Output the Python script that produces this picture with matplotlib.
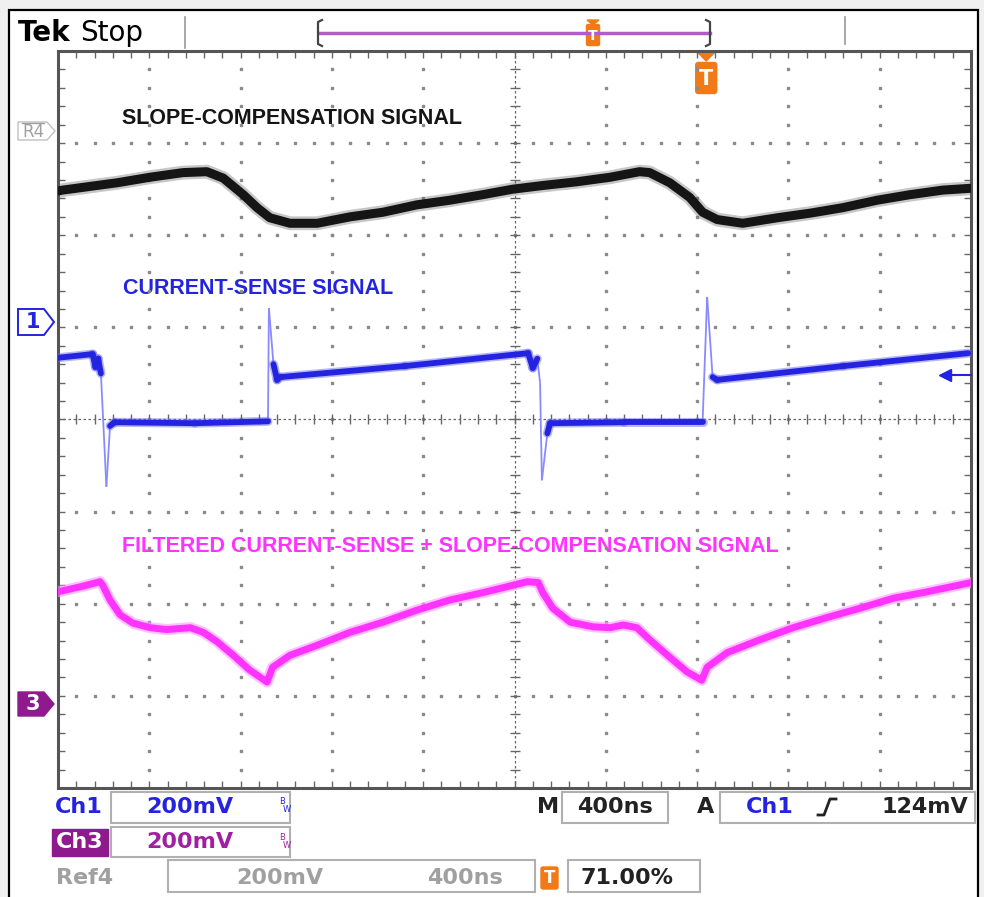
import numpy as np
import matplotlib.pyplot as plt
from matplotlib.collections import LineCollection
from matplotlib.patches import Rectangle, Polygon, FancyBboxPatch


# Screen values in graticule divisions (400 ns/div, 200 mV/div)
time_ref4 = [0.0, 0.05, 0.65, 1.01, 1.37, 1.63, 1.81, 2.03, 2.18, 2.32,
             2.54, 2.84, 3.20, 3.56, 3.93, 4.29, 4.65, 4.98, 5.31, 5.68,
             6.05, 6.37, 6.48, 6.70, 6.92, 7.06, 7.22, 7.50, 7.88, 8.24,
             8.60, 8.97, 9.33, 9.69, 10.0]
level_ref4 = [6.48, 6.49, 6.57, 6.63, 6.68, 6.69, 6.62, 6.44, 6.30, 6.19,
              6.13, 6.13, 6.20, 6.25, 6.33, 6.38, 6.44, 6.50, 6.54, 6.58,
              6.63, 6.69, 6.68, 6.57, 6.41, 6.25, 6.17, 6.13, 6.19, 6.24,
              6.30, 6.38, 6.44, 6.49, 6.51]

time_ch1 = [0.0, 0.38, 0.41, 0.44, 0.47, 0.53, 0.57, 0.62, 1.5, 2.30,
            2.31, 2.36, 2.40, 2.43, 3.8, 5.15, 5.20, 5.25, 5.28, 5.30,
            5.36, 5.39, 6.2, 7.06, 7.11, 7.17, 7.22, 8.6, 9.97]
level_ch1 = [4.67, 4.71, 4.57, 4.66, 4.50, 3.27, 3.93, 3.97, 3.96, 3.98,
             5.21, 4.60, 4.43, 4.46, 4.58, 4.72, 4.56, 4.66, 4.40, 3.34,
             3.85, 3.96, 3.97, 3.97, 5.33, 4.46, 4.43, 4.58, 4.72]

time_ch3 = [0.0, 0.27, 0.46, 0.49, 0.57, 0.68, 0.82, 1.01, 1.19, 1.45,
            1.59, 1.74, 1.92, 2.10, 2.29, 2.35, 2.54, 2.84, 3.20, 3.56,
            3.93, 4.29, 4.65, 4.98, 5.14, 5.26, 5.31, 5.42, 5.61, 5.86,
            6.05, 6.19, 6.34, 6.48, 6.70, 6.89, 7.05, 7.11, 7.33, 7.69,
            8.05, 8.42, 8.78, 9.15, 9.52, 10.0]
level_ch3 = [2.13, 2.19, 2.24, 2.20, 2.04, 1.88, 1.79, 1.74, 1.72, 1.74,
             1.69, 1.59, 1.44, 1.28, 1.15, 1.31, 1.44, 1.55, 1.69, 1.80,
             1.93, 2.04, 2.12, 2.20, 2.24, 2.23, 2.12, 1.95, 1.80, 1.75,
             1.74, 1.77, 1.74, 1.61, 1.42, 1.26, 1.17, 1.31, 1.47, 1.61,
             1.74, 1.85, 1.95, 2.06, 2.13, 2.23]

trigger_level = 4.48
trigger_pos = 0.71

labels = ["SLOPE-COMPENSATION SIGNAL", "CURRENT-SENSE SIGNAL",
          "FILTERED CURRENT-SENSE + SLOPE-COMPENSATION SIGNAL"]

BLUE = "#2424e0"
PINK = "#ff33ff"
PURPLE = "#8e1a8e"
ORANGE = "#f07a18"
GRAY = "#a0a0a0"

W, H = 984, 897
fig = plt.figure(figsize=(W / 100, H / 100), dpi=100)
fig.patch.set_facecolor("#f0f0f0")

# Screen chrome drawn in pixel coordinates
bg = fig.add_axes([0, 0, 1, 1])
bg.set_xlim(0, W)
bg.set_ylim(H, 0)
bg.axis("off")
bg.add_patch(Rectangle((9, 10), 969, 900, facecolor="white", edgecolor="black", lw=1.6))

# Graticule
x0, x1, y0, y1 = 58, 971, 51, 788
ax = fig.add_axes([x0 / W, (H - y1) / H, (x1 - x0) / W, (y1 - y0) / H])
ax.set_xlim(0, 10)
ax.set_ylim(0, 8)
ax.patch.set_alpha(0)
for s in ax.spines.values():
    s.set_color("#555555")
    s.set_linewidth(2.2)
ax.set_xticks(np.arange(0, 10.001, 0.2))
ax.set_yticks(np.arange(0, 8.001, 0.2))
ax.tick_params(direction="in", length=5, width=1, color="#666666",
               top=True, right=True, labelbottom=False, labelleft=False)

xd = np.arange(0.2, 10, 0.2)
yd = np.arange(0.2, 8, 0.2)
for k in range(1, 10):
    if k != 5:
        ax.plot(np.full(len(yd), k), yd, ls="none", marker="s", ms=1.5, color="#8a8a8a", zorder=1)
for k in range(1, 8):
    if k != 4:
        ax.plot(xd, np.full(len(xd), k), ls="none", marker="s", ms=1.5, color="#8a8a8a", zorder=1)
ax.axvline(5, color="#666666", lw=0.9, ls=(0, (2, 2)), zorder=1)
ax.axhline(4, color="#666666", lw=0.9, ls=(0, (2, 2)), zorder=1)
ax.plot(np.full(len(yd), 5), yd, ls="none", marker="_", ms=7, mew=1, color="#666666", zorder=1)
ax.plot(xd, np.full(len(xd), 4), ls="none", marker="|", ms=7, mew=1, color="#666666", zorder=1)

# Traces
ax.plot(time_ref4, level_ref4, color="#606060", lw=10, alpha=0.35, solid_capstyle="round", zorder=3)
ax.plot(time_ref4, level_ref4, color="#151515", lw=6.5, solid_capstyle="round", zorder=3)

ax.plot(time_ch3, level_ch3, color="#ff99ff", lw=8, alpha=0.6, solid_capstyle="round", zorder=3)
ax.plot(time_ch3, level_ch3, color=PINK, lw=5, solid_capstyle="round", zorder=3)

pts = np.column_stack([time_ch1, level_ch1])
segs = np.stack([pts[:-1], pts[1:]], axis=1)
steep = np.abs(np.diff(level_ch1)) > 0.25
ax.add_collection(LineCollection(segs[steep], colors="#8a8aff", linewidths=1.3, zorder=3))
ax.add_collection(LineCollection(segs[~steep], colors="#7070f0", linewidths=6.5, alpha=0.5,
                                 capstyle="round", zorder=3))
ax.add_collection(LineCollection(segs[~steep], colors=BLUE, linewidths=4.2,
                                 capstyle="round", zorder=3))

# Trigger level arrow
ax.plot([9.72, 10.0], [trigger_level, trigger_level], color=BLUE, lw=1.5, zorder=4, clip_on=False)
ax.plot(9.72, trigger_level, marker="<", ms=9, color=BLUE, zorder=4, clip_on=False)

# Trace captions
bg.text(122, 118, labels[0], fontsize=15.5, weight="bold", family="Liberation Sans", color="#151515", va="center")
bg.text(123, 288, labels[1], fontsize=15.5, weight="bold", family="Liberation Sans", color=BLUE, va="center")
bg.text(122, 547, labels[2], fontsize=15.5, weight="bold", family="Liberation Sans", color=PINK, va="center")

# Header
bg.text(18, 33, "Tek", fontsize=20, weight="bold", color="black", va="center")
bg.text(80, 33, "Stop", fontsize=20, color="black", va="center")
bg.plot([185, 185], [17, 48], color="#999999", lw=1.2)
bg.plot([845, 845], [17, 44], color="#999999", lw=1.2)

# Record bar
bg.plot([319, 710], [33, 33], color="#b25cc8", lw=2.5)
bg.plot([322, 318, 318, 322], [20, 22, 44, 46], color="#444444", lw=1.6)
bg.plot([706, 710, 710, 706], [20, 22, 44, 46], color="#444444", lw=1.6)
bg.add_patch(Polygon([[587, 20], [599, 20], [593, 25]], color=ORANGE))
bg.add_patch(FancyBboxPatch((588, 26), 10, 18, boxstyle="round,pad=1.5", color=ORANGE))
bg.text(593, 36, "T", fontsize=10, weight="bold", color="white", ha="center", va="center")

# Trigger position marker
tx = x0 + trigger_pos * (x1 - x0)
bg.add_patch(Polygon([[tx - 8, 53], [tx + 8, 53], [tx, 61]], color=ORANGE))
bg.add_patch(FancyBboxPatch((tx - 8, 65), 16, 26, boxstyle="round,pad=2.5", color=ORANGE))
bg.text(tx, 79, "T", fontsize=15, weight="bold", color="white", ha="center", va="center")

# Channel ground markers
bg.add_patch(Polygon([[18, 122], [47, 122], [55, 131], [47, 140], [18, 140]],
                     facecolor="white", edgecolor="#c0c0c0", lw=1))
bg.text(33, 132, "R4", fontsize=12, color=GRAY, ha="center", va="center")
bg.plot([22, 44], [123, 123], color=GRAY, lw=1)
bg.add_patch(Polygon([[18, 309], [44, 309], [54, 322], [44, 335], [18, 335]],
                     facecolor="white", edgecolor=BLUE, lw=1.4))
bg.text(33, 322, "1", fontsize=15, weight="bold", color=BLUE, ha="center", va="center")
bg.add_patch(Polygon([[18, 692], [44, 692], [54, 704], [44, 716], [18, 716]],
                     facecolor=PURPLE, edgecolor=PURPLE, lw=1))
bg.text(33, 704, "3", fontsize=15, weight="bold", color="white", ha="center", va="center")

# Readout boxes
for bx, by, bw, bh in [(111, 792, 179, 31), (111, 827, 179, 30), (168, 860, 367, 32),
                       (562, 792, 106, 31), (720, 792, 255, 31), (568, 860, 132, 32)]:
    bg.add_patch(Rectangle((bx, by), bw, bh, facecolor="white", edgecolor="#b0b0b0", lw=1.5))

rd = dict(fontsize=16, weight="bold", va="center")
bg.text(79, 807, "Ch1", color=BLUE, ha="center", **rd)
bg.text(190, 807, "200mV", color=BLUE, ha="center", **rd)
bg.add_patch(Rectangle((52, 829), 56, 27, color=PURPLE))
bg.text(80, 842, "Ch3", color="white", ha="center", **rd)
bg.text(190, 842, "200mV", color="#a020a0", ha="center", **rd)
for yy, cc in [(807, BLUE), (842, "#a020a0")]:
    bg.text(282, yy - 5, "B", fontsize=6, color=cc, ha="center", va="center")
    bg.text(287, yy + 3, "W", fontsize=6, color=cc, ha="center", va="center")

bg.text(85, 878, "Ref4", color=GRAY, ha="center", **rd)
bg.text(280, 878, "200mV", color=GRAY, ha="center", **rd)
bg.text(465, 878, "400ns", color=GRAY, ha="center", **rd)

bg.text(548, 807, "M", color="#222222", ha="center", **rd)
bg.text(615, 807, "400ns", color="#222222", ha="center", **rd)
bg.text(706, 807, "A", color="#222222", ha="center", **rd)
bg.text(770, 807, "Ch1", color=BLUE, ha="center", **rd)
bg.plot([818, 824, 830, 836], [815, 815, 799, 799], color="#222222", lw=2)
bg.text(925, 807, "124mV", color="#222222", ha="center", **rd)

bg.add_patch(FancyBboxPatch((543, 869), 13, 18, boxstyle="round,pad=2", color=ORANGE))
bg.text(549.5, 878, "T", fontsize=12, weight="bold", color="white", ha="center", va="center")
bg.text(627, 878, "71.00%", color="#222222", ha="center", **rd)

fig.savefig("out.png", dpi=100, facecolor=fig.get_facecolor())
